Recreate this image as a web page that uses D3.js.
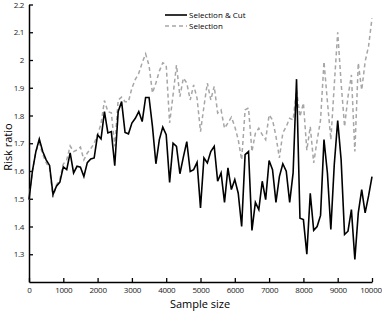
<!DOCTYPE html>
<html>
<head>
<meta charset="utf-8">
<script src="https://cdn.jsdelivr.net/npm/d3@7"></script>
<style>
  body { margin: 0; background: #fff; }
  svg text { font-family: "Open Sans", "Noto Sans", sans-serif; }
</style>
</head>
<body>
<div id="chart"></div>
<script>
// sample sizes 0..10000 in steps of 100
var sampleSizes = d3.range(0, 10001, 100);

var selectionCut = [
  1.497, 1.60, 1.67, 1.715, 1.67, 1.64, 1.62, 1.515, 1.545, 1.56,
  1.615, 1.605, 1.665, 1.593, 1.617, 1.614, 1.58, 1.63, 1.643, 1.647,
  1.73, 1.716, 1.814, 1.737, 1.742, 1.619, 1.814, 1.85, 1.739, 1.734,
  1.773, 1.79, 1.814, 1.778, 1.865, 1.865, 1.76, 1.626, 1.713, 1.758,
  1.731, 1.559, 1.70, 1.689, 1.59, 1.65, 1.706, 1.598, 1.605, 1.631,
  1.467, 1.647, 1.629, 1.67, 1.689, 1.563, 1.593, 1.487, 1.611, 1.533,
  1.569, 1.52, 1.40, 1.659, 1.67, 1.386, 1.487, 1.461, 1.563, 1.497,
  1.638, 1.605, 1.487, 1.58, 1.626, 1.599, 1.487, 1.593, 1.931, 1.43,
  1.425, 1.30, 1.52, 1.386, 1.40, 1.44, 1.713, 1.593, 1.389, 1.623,
  1.782, 1.64, 1.371, 1.383, 1.461, 1.281, 1.449, 1.533, 1.449, 1.51,
  1.58
];

var selection = [
  1.497, 1.60, 1.67, 1.70, 1.66, 1.63, 1.61, 1.505, 1.55, 1.57,
  1.625, 1.64, 1.69, 1.67, 1.676, 1.686, 1.64, 1.665, 1.68, 1.70,
  1.73, 1.77, 1.854, 1.814, 1.81, 1.689, 1.856, 1.866, 1.85, 1.85,
  1.899, 1.93, 1.952, 1.99, 2.022, 1.98, 1.881, 1.917, 1.96, 1.99,
  1.982, 1.773, 1.874, 1.982, 1.868, 1.935, 1.917, 1.856, 1.91, 1.862,
  1.742, 1.832, 1.917, 1.856, 1.905, 1.809, 1.82, 1.754, 1.773, 1.794,
  1.76, 1.713, 1.64, 1.82, 1.827, 1.67, 1.736, 1.754, 1.731, 1.713,
  1.802, 1.784, 1.725, 1.647, 1.737, 1.76, 1.79, 1.784, 1.892, 1.796,
  1.845, 1.675, 1.76, 1.629, 1.71, 1.784, 1.994, 1.85, 1.713, 1.91,
  2.10, 1.917, 1.76, 1.868, 1.946, 1.67, 1.989, 1.892, 1.994, 2.05,
  2.15
];

var xTicks = d3.range(0, 10001, 1000);
var yTicks = [1.3, 1.4, 1.5, 1.6, 1.7, 1.8, 1.9, 2.0, 2.1, 2.2];

var svgWidth = 382;
var svgHeight = 311;

var svg = d3.select('#chart')
    .append('svg')
    .attr('width', svgWidth)
    .attr('height', svgHeight);

var xScale = d3.scaleLinear()
    .domain([0, 10000])
    .range([29, 372]);

var yScale = d3.scaleLinear()
    .domain([1.2, 2.2])
    .range([282, 4.5]);

// x axis, ticks pointing inward
var xAxis = svg.append('g')
    .attr('transform', 'translate(0, 282)')
    .call(d3.axisBottom(xScale)
        .tickValues(xTicks)
        .tickSizeInner(-4)
        .tickSizeOuter(0)
        .tickPadding(5)
        .tickFormat(d3.format('d')));

// y axis
var yAxis = svg.append('g')
    .attr('transform', 'translate(29, 0)')
    .call(d3.axisLeft(yScale)
        .tickValues(yTicks)
        .tickSizeInner(-4)
        .tickSizeOuter(0)
        .tickPadding(5)
        .tickFormat(d => d3.format('.1~f')(d)));

svg.selectAll('.domain')
    .attr('stroke', '#000')
    .attr('stroke-width', 1.5);
svg.selectAll('.tick line')
    .attr('stroke', '#000')
    .attr('stroke-width', 1.3);
svg.selectAll('.tick text')
    .attr('font-size', '8px')
    .attr('letter-spacing', '-0.3px')
    .attr('fill', '#222');

// keep the last label inside the window
xAxis.selectAll('.tick text')
    .filter(d => d === 10000)
    .attr('dx', -1.5);

var line = d3.line()
    .x((d, i) => xScale(sampleSizes[i]))
    .y(d => yScale(d));

svg.append('path')
    .datum(selection)
    .attr('fill', 'none')
    .attr('stroke', '#a6a6a6')
    .attr('stroke-width', 1.5)
    .attr('stroke-dasharray', '4,3')
    .attr('d', line);

svg.append('path')
    .datum(selectionCut)
    .attr('fill', 'none')
    .attr('stroke', '#000')
    .attr('stroke-width', 1.6)
    .attr('stroke-linejoin', 'miter')
    .attr('d', line);

// legend
var legend = svg.append('g')
    .attr('transform', 'translate(165, 0)');

legend.append('line')
    .attr('x1', 0).attr('x2', 22)
    .attr('y1', 15).attr('y2', 15)
    .attr('stroke', '#000')
    .attr('stroke-width', 1.6);

legend.append('text')
    .attr('x', 24).attr('y', 18)
    .attr('font-size', '8px')
    .text('Selection & Cut');

legend.append('line')
    .attr('x1', 0).attr('x2', 22)
    .attr('y1', 26).attr('y2', 26)
    .attr('stroke', '#a6a6a6')
    .attr('stroke-width', 1.5)
    .attr('stroke-dasharray', '4,3');

legend.append('text')
    .attr('x', 24).attr('y', 29)
    .attr('font-size', '8px')
    .text('Selection');

// axis titles
svg.append('text')
    .attr('x', 200)
    .attr('y', 308)
    .attr('text-anchor', 'middle')
    .attr('font-size', '11px')
    .text('Sample size');

svg.append('text')
    .attr('transform', 'translate(12, 147) rotate(-90)')
    .attr('text-anchor', 'middle')
    .attr('font-size', '11px')
    .text('Risk ratio');
</script>
</body>
</html>
